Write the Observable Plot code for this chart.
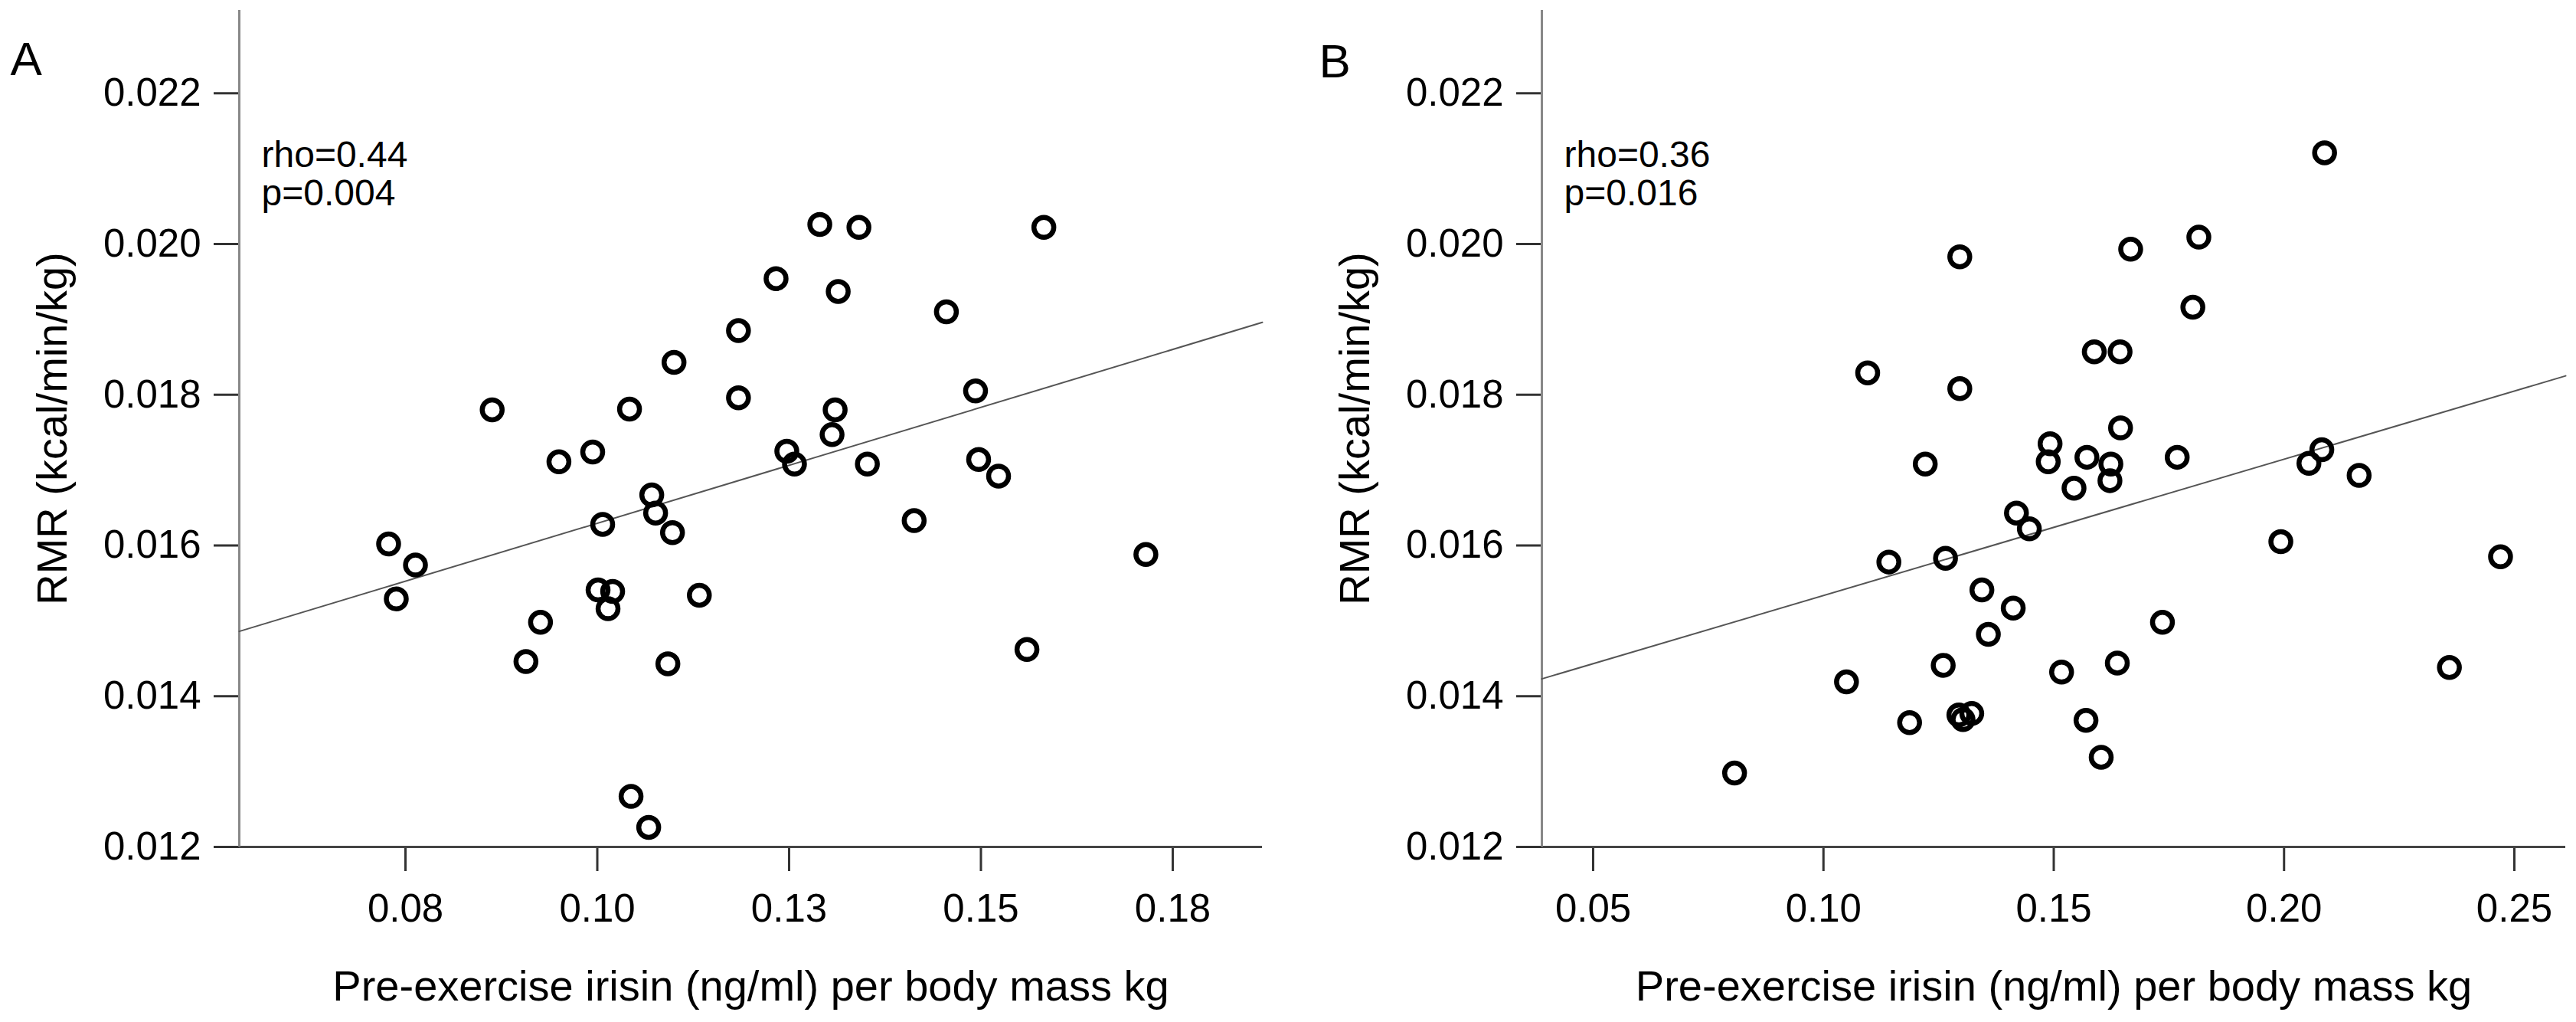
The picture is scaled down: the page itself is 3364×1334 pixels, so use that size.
<!DOCTYPE html>
<html><head><meta charset="utf-8">
<script src="https://cdn.jsdelivr.net/npm/d3@7"></script>
<script src="https://cdn.jsdelivr.net/npm/@observablehq/plot@0.6"></script>
<style>
html,body{margin:0;padding:0;background:#fff;}
#wrap{display:flex;width:3364px;height:1334px;overflow:hidden;}
#wrap svg{flex:none;}
</style></head><body><div id="wrap"></div>
<script>
// ---- Panel A data ----
const xA = [0.1290, 0.1341, 0.1582, 0.1233, 0.1314, 0.1455, 0.1184, 0.1100, 0.1184, 0.1493,
            0.0863, 0.1042, 0.1310, 0.1306, 0.0994, 0.0950, 0.1247, 0.1257, 0.1352, 0.1497,
            0.1523, 0.1071, 0.1076, 0.1007, 0.1098, 0.1413, 0.0728, 0.0763, 0.1715, 0.0738,
            0.1001, 0.1020, 0.1014, 0.1133, 0.0926, 0.0907, 0.1092, 0.1560, 0.1044, 0.1067];
const yA = [0.02026, 0.02022, 0.02022, 0.01954, 0.01937, 0.01910, 0.01885, 0.01843, 0.01796, 0.01805,
            0.01780, 0.01781, 0.01780, 0.01747, 0.01724, 0.01711, 0.01725, 0.01708, 0.01708, 0.01714,
            0.01692, 0.01667, 0.01643, 0.01628, 0.01617, 0.01633, 0.01602, 0.01574, 0.01588, 0.01529,
            0.01541, 0.01539, 0.01516, 0.01534, 0.01498, 0.01446, 0.01443, 0.01462, 0.01267, 0.01226];
const fitAx = [0.05334, 0.18668];
const fitAy = [0.01486, 0.01896];
const xDomainA = [0.05334, 0.18668];
const xTicksA = [0.075, 0.1, 0.125, 0.15, 0.175];
const xTickLabelsA = ["0.08", "0.10", "0.13", "0.15", "0.18"];
const statsA = ["rho=0.44", "p=0.004"];

// ---- Panel B data ----
const xB = [0.2088, 0.1815, 0.1667, 0.1296, 0.1802, 0.1588, 0.1644, 0.1096, 0.1296, 0.1645,
            0.1492, 0.1488, 0.1572, 0.1624, 0.1622, 0.1544, 0.1221, 0.1768, 0.2082, 0.2054,
            0.2163, 0.1419, 0.1447, 0.1993, 0.1142, 0.1265, 0.2470, 0.1344, 0.1412, 0.1358,
            0.1736, 0.1260, 0.1638, 0.1517, 0.2359, 0.1050, 0.1187, 0.1294, 0.1303, 0.1322,
            0.1570, 0.1603, 0.0807];
const yB = [0.02121, 0.02009, 0.01993, 0.01983, 0.01916, 0.01857, 0.01857, 0.01829, 0.01808, 0.01756,
            0.01735, 0.01711, 0.01717, 0.01708, 0.01686, 0.01676, 0.01708, 0.01717, 0.01727, 0.01709,
            0.01693, 0.01643, 0.01622, 0.01605, 0.01578, 0.01583, 0.01585, 0.01541, 0.01517, 0.01482,
            0.01498, 0.01441, 0.01444, 0.01432, 0.01438, 0.01419, 0.01365, 0.01375, 0.01369, 0.01377,
            0.01368, 0.01319, 0.01298];
const fitBx = [0.03886, 0.26114];
const fitBy = [0.01423, 0.01825];
const xDomainB = [0.03886, 0.26114];
const xTicksB = [0.05, 0.10, 0.15, 0.20, 0.25];
const xTickLabelsB = ["0.05", "0.10", "0.15", "0.20", "0.25"];
const statsB = ["rho=0.36", "p=0.016"];

// ---- shared ----
const yDomain = [0.012, 0.0231];
const yTicks = [0.012, 0.014, 0.016, 0.018, 0.020, 0.022];
const yTickLabels = ["0.012", "0.014", "0.016", "0.018", "0.020", "0.022"];
const xLabel = "Pre-exercise irisin (ng/ml) per body mass kg";
const yLabel = "RMR (kcal/min/kg)";

const FONT = "'Liberation Sans', Arial, Helvetica, sans-serif";

function panel(o) {
  const pts = o.xs.map((x, i) => ({x, y: o.ys[i]}));
  const fit = o.fitX.map((x, i) => ({x, y: o.fitY[i]}));
  const xMap = new Map(o.xTicks.map((t, i) => [t, o.xTickLabels[i]]));
  const yMap = new Map(yTicks.map((t, i) => [t, yTickLabels[i]]));
  const mt = 13, mb = 229;
  return Plot.plot({
    width: 1682, height: 1334,
    marginLeft: o.ml, marginRight: o.mr, marginTop: mt, marginBottom: mb,
    style: {fontFamily: FONT, background: "white", color: "black", overflow: "visible"},
    x: {domain: o.xDomain},
    y: {domain: yDomain},
    marks: [
      Plot.axisY({ticks: yTicks, tickFormat: d => yMap.get(d), tickSize: 33, tickPadding: 17,
                  fontSize: 51, label: null, stroke: "#333", strokeWidth: 3}),
      Plot.axisX({ticks: o.xTicks, tickFormat: d => xMap.get(d), tickSize: 32, tickPadding: 29,
                  fontSize: 51, label: null, stroke: "#333", strokeWidth: 3}),
      Plot.ruleY([yDomain[0]], {stroke: "#444", strokeWidth: 3}),
      Plot.ruleX([o.xDomain[0]], {stroke: "#888", strokeWidth: 3}),
      Plot.line(fit, {x: "x", y: "y", stroke: "#555", strokeWidth: 2}),
      Plot.dot(pts, {x: "x", y: "y", r: 13, fill: "none", stroke: "black", strokeWidth: 6.5}),
      Plot.text([o.stats[0]], {text: d => d, frameAnchor: "top-left", dx: 29, dy: 204,
                  lineAnchor: "bottom", textAnchor: "start", fontSize: 48, fill: "black"}),
      Plot.text([o.stats[1]], {text: d => d, frameAnchor: "top-left", dx: 29, dy: 254,
                  lineAnchor: "bottom", textAnchor: "start", fontSize: 48, fill: "black"}),
      Plot.text([o.letter], {text: d => d, frameAnchor: "top-left", dx: o.letterX - o.ml, dy: o.letterBase - mt,
                  lineAnchor: "bottom", textAnchor: "start", fontSize: 62, fill: "black"}),
      Plot.text([yLabel], {text: d => d, frameAnchor: "left", dx: -226, rotate: -90,
                  lineAnchor: "bottom", textAnchor: "middle", fontSize: 56, fill: "black"}),
      Plot.text([xLabel], {text: d => d, frameAnchor: "bottom", dy: 200,
                  lineAnchor: "bottom", textAnchor: "middle", fontSize: 56, fill: "black"})
    ]
  });
}

const wrap = document.getElementById("wrap");
wrap.appendChild(panel({xs: xA, ys: yA, fitX: fitAx, fitY: fitAy, xDomain: xDomainA,
  xTicks: xTicksA, xTickLabels: xTickLabelsA, stats: statsA, letter: "A",
  ml: 312, mr: 34, letterX: 13, letterBase: 97}));
wrap.appendChild(panel({xs: xB, ys: yB, fitX: fitBx, fitY: fitBy, xDomain: xDomainB,
  xTicks: xTicksB, xTickLabels: xTickLabelsB, stats: statsB, letter: "B",
  ml: 331, mr: 14, letterX: 40, letterBase: 100}));
</script></body></html>
